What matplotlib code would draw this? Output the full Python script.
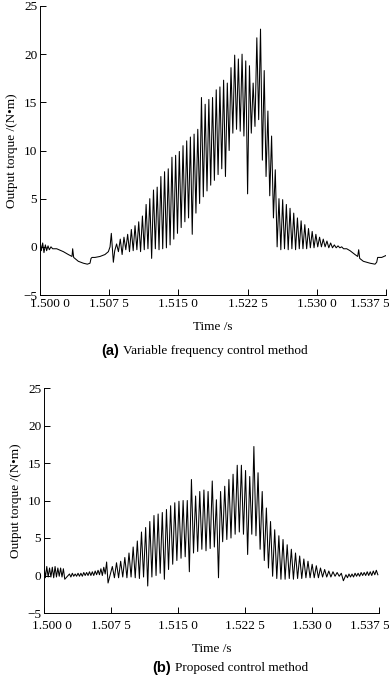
import numpy as np
import matplotlib
matplotlib.use("Agg")
import matplotlib.pyplot as plt
import matplotlib.transforms as mtransforms

# ---- (a) variable frequency control ----
# quiet part before the oscillation (time s, torque N.m)
a_pre_t = [1.50000, 1.50014, 1.50029, 1.50043, 1.50058, 1.50072, 1.50087, 1.50101,
           1.50119, 1.50137, 1.50181, 1.50253, 1.50307, 1.50347, 1.50354, 1.50365,
           1.50415, 1.50470, 1.50513, 1.50542, 1.50553, 1.50564, 1.50596, 1.50650,
           1.50704, 1.50741, 1.50759, 1.50773, 1.50795, 1.50810]
a_pre_v = [0.7, -0.4, 0.4, -0.6, 0.2, -0.4, 0.1, -0.3,
           0.0, -0.2, -0.2, -0.5, -0.8, -1.0, -0.2, -1.1,
           -1.5, -1.7, -1.8, -1.7, -1.2, -1.1, -1.1, -1.0,
           -0.8, -0.5, 0.0, 1.4, -1.6, -0.4]
# oscillation: one peak and one trough per cycle
a_t0 = 1.50830
a_period = 0.000400
a_peaks = [0.3, 0.8, 1.0, 1.3, 1.8, 2.2, 2.6, 3.2, 4.4, 5.0,
           5.9, 6.2, 7.3, 7.8, 8.1, 9.3, 9.5, 9.9, 10.5, 11.0,
           11.4, 11.7, 12.2, 15.5, 14.8, 15.3, 15.5, 16.3, 16.6, 17.3,
           17.0, 18.6, 19.9, 19.5, 20.0, 19.3, 18.8, 17.0, 21.7, 22.6,
           18.3, 14.1, 11.5, 8.0, 5.0, 4.9, 4.4, 4.0, 3.5, 3.0,
           2.7, 2.3, 1.9, 1.6, 1.3, 1.0, 0.8, 0.6, 0.4, 0.2, 0.1, 0.0]
a_troughs = [-0.5, -0.8, -0.3, -0.5, -0.4, -0.3, -0.5, -0.3, -0.2, -1.2,
             -0.2, -0.3, -0.2, -0.1, 0.2, 0.8, 1.4, 2.0, 2.6, 3.0,
             1.3, 3.5, 4.5, 5.2, 5.8, 6.4, 6.9, 7.5, 8.1, 7.3,
             10.0, 11.8, 12.2, 12.0, 11.5, 5.5, 11.8, 12.5, 13.2, 9.0,
             7.3, 5.3, 3.0, 0.0, -0.3, -0.2, -0.3, -0.2, -0.3, -0.2,
             -0.2, -0.2, -0.1, -0.1, 0.0, 0.0, 0.0, -0.1, -0.1, -0.1, -0.1, -0.2]
a_post_t = [1.53324, 1.53360, 1.53414, 1.53443, 1.53454, 1.53465, 1.53504,
            1.53577, 1.53631, 1.53649, 1.53660, 1.53703, 1.53750]
a_post_v = [-0.2, -0.4, -0.8, -1.0, -0.3, -1.2, -1.5,
            -1.7, -1.8, -1.6, -1.1, -1.1, -0.9]

# ---- (b) proposed control ----
b_segments = [
    # (start time, period, peaks, troughs)
    (1.50000, 0.00031,
     [1.3, 1.2, 1.0, 1.1, 1.2, 1.0, 1.0, 0.9],
     [-0.3, -0.2, -0.2, -0.3, -0.2, -0.1, -0.2, -0.5]),
    (1.50285, 0.00032,
     [0.2, 0.3, 0.2, 0.3, 0.3, 0.4, 0.4, 0.5, 0.5, 0.6, 0.7, 0.9, 1.1, 1.8],
     [-0.2, -0.1, -0.1, -0.1, -0.1, 0.0, 0.0, 0.0, 0.0, 0.1, 0.1, 0.0, 0.2, -1.0]),
    (1.50765, 0.000466,
     [1.2, 1.7, 1.9, 2.4, 3.0, 3.8, 4.6, 5.8, 6.4, 7.2,
      8.0, 8.2, 8.4, 8.8, 9.3, 9.7, 9.9, 10.0, 10.0, 12.8,
      10.6, 11.2, 11.4, 11.2, 12.6, 10.1, 11.2, 11.9, 12.8, 13.5,
      14.7, 14.7, 14.0, 13.2, 17.2, 13.7, 11.2, 9.0, 7.2, 6.1,
      5.3, 4.8, 4.1, 3.5, 3.0, 2.6, 2.2, 1.9, 1.5, 1.3,
      1.0, 0.8, 0.6, 0.5, 0.4, 0.3],
     [-0.3, -0.3, -0.2, -0.3, -0.2, -0.3, -0.4, -0.2, -1.4, -0.2,
      0.0, 0.3, -0.5, 0.8, 1.5, 2.0, 2.3, 2.5, 0.5, 3.0,
      3.2, 3.5, 3.3, 3.6, 3.8, -0.3, 4.5, 4.8, 5.0, 5.5,
      5.8, 5.5, 2.8, 5.5, 5.3, 3.5, 2.0, 1.0, -0.1, -0.4,
      -0.5, -0.5, -0.4, -0.5, -0.4, -0.4, -0.3, -0.3, -0.3, -0.3,
      -0.2, -0.2, -0.2, -0.1, -0.1, -0.7]),
    (1.53380, 0.00034,
     [0.1, 0.2, 0.2, 0.3, 0.3, 0.4, 0.4, 0.5, 0.5, 0.6, 0.7],
     [-0.3, -0.2, -0.2, -0.1, -0.1, 0.0, 0.0, 0.0, 0.0, 0.1, 0.1]),
]

xticks = [1.5000, 1.5075, 1.5150, 1.5225, 1.5300, 1.5375]
xtick_labels = ["1.500 0", "1.507 5", "1.515 0", "1.522 5", "1.530 0", "1.537 5"]
yticks = [-5, 0, 5, 10, 15, 20, 25]


def cycles(t0, period, peaks, troughs):
    t, v = [], []
    for i, (p, q) in enumerate(zip(peaks, troughs)):
        t += [t0 + i * period, t0 + (i + 0.5) * period]
        v += [p, q]
    return t, v


ta, va = cycles(a_t0, a_period, a_peaks, a_troughs)
a_t = np.array(a_pre_t + ta + a_post_t)
a_v = np.array(a_pre_v + va + a_post_v)

b_t, b_v = [], []
for seg in b_segments:
    t, v = cycles(*seg)
    b_t += t
    b_v += v
b_t = np.array(b_t)
b_v = np.array(b_v)

plt.rcParams['font.family'] = ['Liberation Serif', 'DejaVu Serif']
plt.rcParams['font.size'] = 9.5

fig = plt.figure(figsize=(3.89, 6.77), dpi=100)
ax1 = fig.add_axes([40 / 389, 1 - 295 / 677, 346 / 389, 289 / 677])
ax2 = fig.add_axes([44 / 389, 1 - 613 / 677, 335 / 389, 225 / 677])

# (axes, time, torque, x tick pad, first label shift px, last label shift px)
panels = [(ax1, a_t, a_v, 2.0, 10, -16), (ax2, b_t, b_v, 5.0, 8, -9)]
for ax, t, v, xpad, dx0, dx1 in panels:
    ax.plot(t, v, color='black', lw=0.75)
    ax.set_xlim(1.5, 1.5375)
    ax.set_ylim(-5, 25)
    ax.set_xticks(xticks)
    ax.set_xticklabels(xtick_labels)
    ax.set_yticks(yticks)
    ax.set_yticklabels(["\u22125"] + [str(y) for y in yticks[1:]])
    ax.spines['top'].set_visible(False)
    ax.spines['right'].set_visible(False)
    ax.spines['left'].set_linewidth(0.7)
    ax.spines['bottom'].set_linewidth(0.7)
    ax.tick_params(direction='in', length=4, width=0.7, pad=2)
    ax.tick_params(axis='x', pad=xpad)
    ax.set_xlabel("Time /s", labelpad=8)
    ax.set_ylabel("Output torque /(N\u2022m)", labelpad=4)
    labels = ax.get_xticklabels()
    for lab, dx in [(labels[0], dx0), (labels[-1], dx1)]:
        lab.set_transform(lab.get_transform() +
                          mtransforms.ScaledTranslation(dx / 100, 0, fig.dpi_scale_trans))

fig.text(101 / 389, 1 - 351 / 677, "(a)", family='Liberation Sans', weight='bold',
         fontsize=10.5, va='center', ha='left')
fig.text(123 / 389, 1 - 351 / 677, "Variable frequency control method",
         fontsize=9.5, va='center', ha='left')
fig.text(152 / 389, 1 - 668 / 677, "(b)", family='Liberation Sans', weight='bold',
         fontsize=10.5, va='center', ha='left')
fig.text(175 / 389, 1 - 668 / 677, "Proposed control method",
         fontsize=9.5, va='center', ha='left')

fig.savefig("out.png", dpi=100)
